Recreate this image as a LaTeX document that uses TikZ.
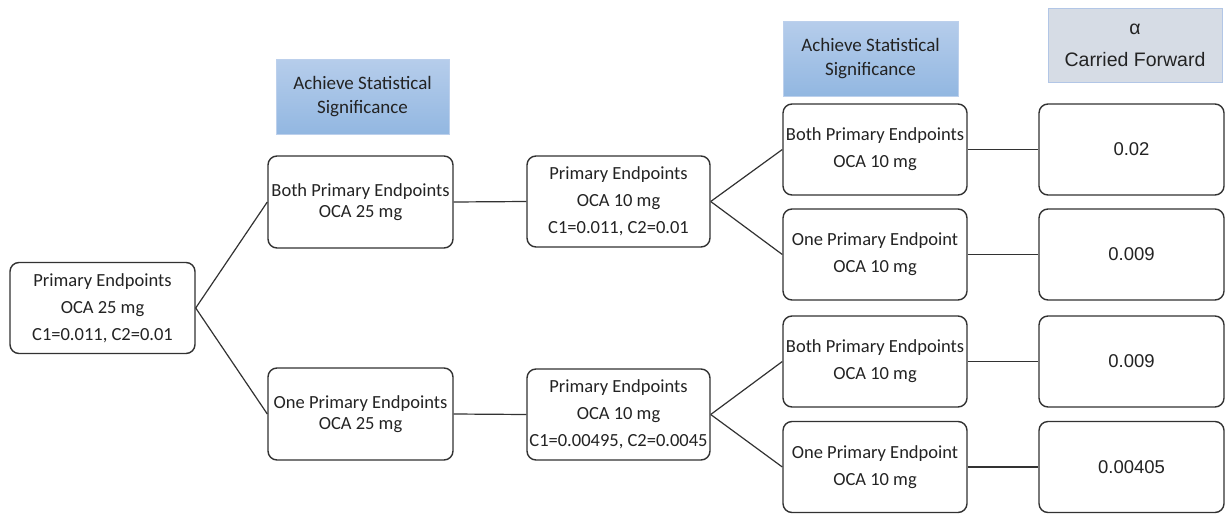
\documentclass[tikz,border=0pt]{standalone}
\usepackage{fontspec}
\setmainfont{Carlito}
\newfontfamily\arialfont{Liberation Sans}
\definecolor{hdtop}{RGB}{182,205,235}
\definecolor{hdbot}{RGB}{146,183,225}
\definecolor{hdborder}{RGB}{188,208,236}
\definecolor{grayfill}{RGB}{214,220,229}
\definecolor{grayborder}{RGB}{178,198,230}
\definecolor{edge}{RGB}{50,50,50}
\definecolor{txt}{RGB}{35,35,35}
\tikzset{
  box/.style={draw=edge, line width=1.4pt, rounded corners=9pt, fill=white,
    inner sep=0pt, align=center, minimum width=185pt, minimum height=91pt,
    text=txt, font=\fontsize{18.5}{27}\selectfont},
  valbox/.style={box, font=\arialfont\fontsize{18.5}{27}\selectfont},
  bluehead/.style={draw=hdborder, line width=1pt, top color=hdtop, bottom color=hdbot,
    inner sep=0pt, align=center, minimum width=174pt, minimum height=75pt,
    text=txt, font=\fontsize{19}{24}\selectfont},
  grayhead/.style={draw=grayborder, line width=1pt, fill=grayfill,
    inner sep=0pt, align=center, minimum width=174pt, minimum height=74pt,
    text=txt, font=\arialfont\fontsize{19.5}{32}\selectfont},
  conn/.style={draw=edge, line width=1.2pt}
}
\begin{document}
\begin{tikzpicture}[x=1pt,y=-1pt]
\useasboundingbox[fill=white] (0,0) rectangle (1225,514);

\node[box] (root) at (102.5,308) {Primary Endpoints\\OCA 25 mg\\C1=0.011, C2=0.01};
\node[box, minimum height=92pt, font=\fontsize{18.5}{21}\selectfont] (b25) at (360.5,202) {Both Primary Endpoints\\OCA 25 mg};
\node[box, minimum height=92pt, font=\fontsize{18.5}{21}\selectfont] (o25) at (360.5,414) {One Primary Endpoints\\OCA 25 mg};

\node[box, minimum width=183pt] (m10a) at (618.5,201.5) {Primary Endpoints\\OCA 10 mg\\C1=0.011, C2=0.01};
\node[box, minimum width=183pt] (m10b) at (618.5,414.5) {Primary Endpoints\\OCA 10 mg\\C1=0.00495, C2=0.0045};

\node[box, minimum width=184pt] (r1) at (875,149.5) {Both Primary Endpoints\\OCA 10 mg};
\node[box, minimum width=184pt] (r2) at (875,254.5) {One Primary Endpoint\\OCA 10 mg};
\node[box, minimum width=184pt] (r3) at (875,361.5) {Both Primary Endpoints\\OCA 10 mg};
\node[box, minimum width=184pt] (r4) at (875,467) {One Primary Endpoint\\OCA 10 mg};

\node[valbox] (v1) at (1131.5,149.5) {0.02};
\node[valbox] (v2) at (1131.5,254.5) {0.009};
\node[valbox] (v3) at (1131.5,361.5) {0.009};
\node[valbox] (v4) at (1131.5,467) {0.00405};

\node[bluehead, minimum width=173pt] (h1) at (362.5,97) {Achieve Statistical\\Significance};
\node[bluehead, minimum width=175pt] (h2) at (870.5,58.5) {Achieve Statistical\\Significance};
\node[grayhead] (h3) at (1135,45) {α\\Carried Forward};

\draw[conn] (root.east) -- (b25.west);
\draw[conn] (root.east) -- (o25.west);
\draw[conn] (b25.east) -- (m10a.west);
\draw[conn] (o25.east) -- (m10b.west);
\draw[conn] (m10a.east) -- (r1.west);
\draw[conn] (m10a.east) -- (r2.west);
\draw[conn] (m10b.east) -- (r3.west);
\draw[conn] (m10b.east) -- (r4.west);
\draw[conn] (r1.east) -- (v1.west);
\draw[conn] (r2.east) -- (v2.west);
\draw[conn] (r3.east) -- (v3.west);
\draw[conn] (r4.east) -- (v4.west);
\end{tikzpicture}
\end{document}
